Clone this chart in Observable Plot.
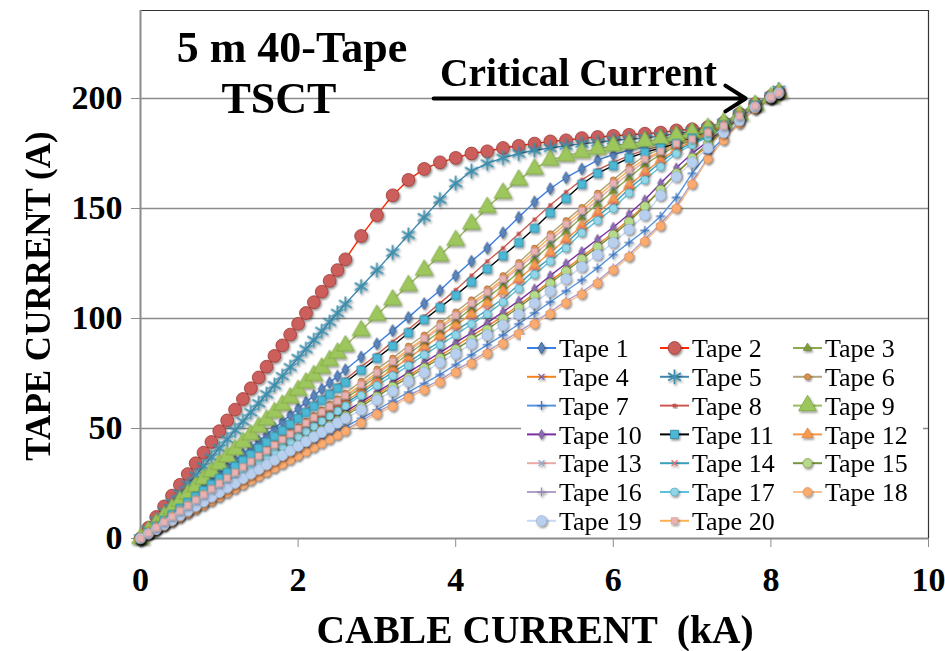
<!DOCTYPE html>
<html><head><meta charset="utf-8">
<script src="https://cdn.jsdelivr.net/npm/d3@7"></script>
<script src="https://cdn.jsdelivr.net/npm/@observablehq/plot@0.6"></script>
<style>
body{margin:0;background:#fff;}
#wrap{position:relative;width:945px;height:651px;overflow:hidden;background:#fff;}
#wrap > svg{position:absolute;left:0;top:0;}
</style></head><body><div id="wrap"></div>
<script>
// ---- data ----
const cableCurrent = [0,0.1,0.2,0.3,0.4,0.5,0.6,0.7,0.8,0.9,1.0,1.1,1.2,1.3,1.4,1.5,1.6,1.7,1.8,1.9,2.0,2.1,2.2,2.3,2.4,2.5,2.6,
  2.8,3.0,3.2,3.4,3.6,3.8,4.0,4.2,4.4,4.6,4.8,5.0,5.2,5.4,5.6,5.8,6.0,6.2,6.4,6.6,6.8,7.0,7.2,7.4,7.6,7.8,8.0,8.1];

const tape1 = [0,3,5.9,8.9,11.8,14.8,17.7,20.7,23.6,26.6,29.5,32.5,35.4,38.4,41.3,44.3,47.2,50.2,53.1,56.1,59,62,64.9,67.9,70.8,73.8,76.7,
  82.5,88.5,94.5,100.5,106.8,112.7,119.5,126,132,139,146,153,159,164,168,172,174.5,176.5,178,179.5,181,183.5,186,188.5,192.5,197,200.5,202.5];
const tape2 = [0,4.9,9.8,14.6,19.5,24.4,29.3,34.2,39,43.9,48.8,53.7,58.6,63.4,68.3,73.2,78.1,83,87.8,92.7,97.6,102.5,107.4,112.2,117.1,122,126.9,
  137.5,147,156,163,168,171,173,175,176,177.5,178.5,179.5,180.5,181,182,182.5,183,183.5,184,184.5,185.5,186,187,189,193,197.5,201,203];
const tape3 = [0,2.5,4.9,7.4,9.8,12.3,14.7,17.2,19.6,22.1,24.5,27,29.4,31.9,34.3,36.8,39.2,41.7,44.1,46.6,49,51.5,53.9,56.4,58.8,61.3,63.7,
  68.5,73.5,78.5,84,89,94,99,104.5,109.5,115,121,127,133.5,139.5,146,152,158,164,170,174.5,178.5,181,184,187.5,192,196.5,200.5,202.5];
const tape4 = [0,2.2,4.4,6.5,8.7,10.9,13.1,15.3,17.4,19.6,21.8,24,26.2,28.3,30.5,32.7,34.9,37.1,39.2,41.4,43.6,45.8,48,50.1,52.3,54.5,56.7,
  61,65.5,70,74,78.5,83,87.5,92,96.5,101,106,111.5,117,122.5,128,133.5,139,145,151.5,158.5,166,172.5,178.5,185,190.5,196,200.5,202.5];
const tape5 = [0,4.1,8.2,12.3,16.4,20.5,24.6,28.7,32.8,36.9,41,45.1,49.2,53.3,57.4,61.5,65.6,69.7,73.8,77.9,82,86.1,90.2,94.3,98.4,102.5,106.6,
  114.5,122,130,138,146,154,161.5,167,170.5,173,175,176.5,177.5,178.5,179.5,180,181,181.5,182,183,184,185,186.5,189,193,197.5,201,204];
const tape6 = [0,2.5,5.1,7.6,10.2,12.7,15.2,17.8,20.3,22.9,25.4,27.9,30.5,33,35.6,38.1,40.6,43.2,45.7,48.3,50.8,53.3,55.9,58.4,61,63.5,66,
  71.5,77,82,87.5,92.5,98,103,108.5,113.5,119.5,125.5,132,138.5,144.5,150.5,157,163,169,174,177,180,182,185,188,192,196.5,200.5,202.5];
const tape7 = [0,2,3.9,5.9,7.8,9.8,11.7,13.7,15.6,17.6,19.5,21.5,23.4,25.4,27.3,29.3,31.2,33.2,35.1,37.1,39,41,42.9,44.9,46.8,48.8,50.7,
  54.6,58.5,62.5,66.5,70.5,74.5,79,83.5,88,92.5,97.5,102.5,107.5,112.5,117.5,123,129,134.5,140,146.5,155,166,175,182,189,195.5,200,202];
const tape8 = [0,2.8,5.6,8.3,11.1,13.9,16.7,19.5,22.2,25,27.8,30.6,33.4,36.1,38.9,41.7,44.5,47.3,50,52.8,55.6,58.4,61.2,63.9,66.7,69.5,72.3,
  78,83.5,89.5,95,101,107,113,119.5,126,132,138.5,145,151.5,157.5,163,167.5,171,174,176.5,178.5,180.5,183,185.5,188.5,192.5,197,200.5,202.5];
const tape9 = [0,3.4,6.7,10.1,13.5,16.9,20.2,23.6,27,30.3,33.7,37.1,40.4,43.8,47.2,50.6,53.9,57.3,60.7,64,67.4,70.8,74.1,77.5,80.9,84.3,87.6,
  94.5,101.5,108.5,115,122,128.5,135.5,143,150.5,157,163,168,172,174,175.5,177,178.5,179.5,180.5,181.5,183,184.5,186.5,189,192.5,197,200.5,202.5];
const tape10 = [0,2.2,4.4,6.7,8.9,11.1,13.3,15.5,17.8,20,22.2,24.4,26.6,28.9,31.1,33.3,35.5,37.7,40,42.2,44.4,46.6,48.8,51.1,53.3,55.5,57.7,
  62,66.5,71,75.5,80,84.5,89,93.5,98,103,108,113.5,119.5,125,130.5,136,141.5,147.5,154,161.5,168.5,175,180.5,186,191,196.5,200.5,202.5];
const tape11 = [0,2.7,5.5,8.2,10.9,13.7,16.4,19.1,21.8,24.6,27.3,30,32.8,35.5,38.2,41,43.7,46.4,49.1,51.9,54.6,57.3,60.1,62.8,65.5,68.3,71,
  76.5,82,87.5,93.5,99.5,105,110.5,116.5,122.5,128.5,134.5,141,148,154.5,161,166,169.5,173,175.5,177.5,179.5,182,185,188,192,197,200.5,202.5];
const tape12 = [0,2.4,4.8,7.2,9.6,12,14.4,16.8,19.2,21.6,24,26.4,28.8,31.2,33.6,36,38.4,40.8,43.2,45.6,48,50.4,52.8,55.2,57.6,60,62.4,
  67,72,77,82,87,92,97,102,107,112.5,118,124,130,136,142,148,154,160.5,166.5,172,177,180.5,184,187.5,192,196.5,200.5,202.5];
const tape13 = [0,2.5,5,7.4,9.9,12.4,14.9,17.4,19.8,22.3,24.8,27.3,29.8,32.2,34.7,37.2,39.7,42.2,44.6,47.1,49.6,52.1,54.6,57,59.5,62,64.5,
  69.5,74.5,80,85,90.5,95.5,100.5,106,111,117,123,129,135.5,141.5,147.5,154,160,166,171.5,175.5,179,181.5,184.5,187.5,192,196.5,200.5,202.5];
const tape14 = [0,2.4,4.7,7.1,9.4,11.8,14.2,16.5,18.9,21.2,23.6,26,28.3,30.7,33,35.4,37.8,40.1,42.5,44.8,47.2,49.6,51.9,54.3,56.6,59,61.4,
  66,71,75.5,80,85,89.5,94.5,99,104,109,115.5,122,127.5,134,141,146.5,152,159,165,171,176,180,183,187.5,191.5,196.5,200.5,202.5];
const tape15 = [0,2.2,4.3,6.5,8.6,10.8,12.9,15.1,17.2,19.4,21.5,23.7,25.8,28,30.1,32.3,34.4,36.6,38.7,40.9,43,45.2,47.3,49.5,51.6,53.8,55.9,
  60,64.5,69,73,77.5,82,86,90.5,95,100,105,110.5,116,121.5,127,132.5,138,144,151,158.5,166,173,179.5,185.5,190.5,196,200.5,202.5];
const tape16 = [0,1.9,3.8,5.7,7.6,9.5,11.4,13.3,15.2,17.1,19,20.9,22.8,24.7,26.6,28.5,30.4,32.3,34.2,36.1,38,39.9,41.8,43.7,45.6,47.5,49.4,
  53.5,57.5,61,65,68.5,72,76.5,80.5,85,89.5,94,98.5,103,108,112,117,123,129,136,143,151,162,173,181.5,189,195,200,202];
const tape17 = [0,2.3,4.6,7,9.3,11.6,13.9,16.2,18.6,20.9,23.2,25.5,27.8,30.2,32.5,34.8,37.1,39.4,41.8,44.1,46.4,48.7,51,53.4,55.7,58,60.3,
  65,69.5,74,78.5,83.5,88,92.5,97.5,102,107.5,113.5,120,126,132,139,144.5,150,157,163,169,175,179,182.5,187,191.5,196.5,200.5,202.5];
const tape18 = [0,1.9,3.8,5.6,7.5,9.4,11.3,13.2,15,16.9,18.8,20.7,22.6,24.4,26.3,28.2,30.1,32,33.8,35.7,37.6,39.5,41.4,43.2,45.1,47,48.9,
  52.5,56.5,60,64,67.5,71,75.5,79.5,84,88.5,93,97.5,102,107,111,116,122,128,135,142,150,161,172.5,181,188.5,195,200,202];
const tape19 = [0,2.1,4.2,6.3,8.4,10.5,12.6,14.7,16.8,18.9,21,23.1,25.2,27.3,29.4,31.5,33.6,35.7,37.8,39.9,42,44.1,46.2,48.3,50.4,52.5,54.6,
  58.5,63,67,71.5,75.5,80,84,88.5,92.5,97,102,107,112.5,118,123.5,129,134.5,140.5,147,156,164.5,171,177.5,184.5,190,196,200.5,202.5];
const tape20 = [0,2.5,5,7.5,10,12.5,15,17.5,20,22.5,25,27.5,30,32.5,35,37.5,40,42.5,45,47.5,50,52.5,55,57.5,60,62.5,65,
  70,75.5,80.5,86,91,96.5,101.5,107,112,118,124,130.5,137,143,149,155.5,161.5,167.5,172.5,176,179.5,181.5,184.5,187.5,192,196.5,200.5,202.5];

const tapeNames = ["Tape 1","Tape 2","Tape 3","Tape 4","Tape 5","Tape 6","Tape 7","Tape 8","Tape 9","Tape 10",
  "Tape 11","Tape 12","Tape 13","Tape 14","Tape 15","Tape 16","Tape 17","Tape 18","Tape 19","Tape 20"];
const yTicks = [0, 50, 100, 150, 200];
const xTicks = [0, 2, 4, 6, 8, 10];
const criticalArrow = [{x1: 3.72, x2: 7.68, y: 200}];
const titleLines = ["5 m 40-Tape", "TSCT"];
const annotationText = "Critical Current";
const xTitle = "CABLE CURRENT  (kA)";
const yTitle = "TAPE CURRENT (A)";

// ---- styles ----
const tapeValues = [tape1,tape2,tape3,tape4,tape5,tape6,tape7,tape8,tape9,tape10,tape11,tape12,tape13,tape14,tape15,tape16,tape17,tape18,tape19,tape20];
const styles = [
  {line:"#3b7fe2", symbol:"diamond",  r:3.6, fill:"#5a84bd", stroke:"#365a8e", sw:0.8},
  {line:"#ff2a00", symbol:"circle",   r:6.4, fill:"#cc5f5c", stroke:"#9a3a37", sw:0.8},
  {line:"#8faa4c", symbol:"triangle", r:3.2, fill:"#7e9c3e", stroke:"#6a8533", sw:0.6},
  {line:"#f5821f", symbol:"times",    r:2.8, fill:"none",    stroke:"#7b5fa0", sw:1.3},
  {line:"#3d88b0", symbol:"asterisk", r:7.0, fill:"none",    stroke:"#3d8fad", sw:1.8},
  {line:"#b4a47a", symbol:"circle",   r:3.0, fill:"#e0904e", stroke:"#a86c34", sw:0.7},
  {line:"#5696e0", symbol:"plus",     r:3.0, fill:"none",    stroke:"#3a72c0", sw:1.3},
  {line:"#cd5a52", symbol:"square",   r:1.8, fill:"#c0504d", stroke:"#c0504d", sw:0.5},
  {line:"#9bbb59", symbol:"triangle", r:6.6, fill:"#9dc75c", stroke:"#7ea545", sw:0.8},
  {line:"#7a2fa3", symbol:"diamond",  r:3.0, fill:"#8a6ab0", stroke:"#6a4c8e", sw:0.6},
  {line:"#000000", symbol:"square",   r:4.6, fill:"#4cb9d5", stroke:"#2b88a4", sw:0.8},
  {line:"#f79646", symbol:"triangle", r:4.2, fill:"#f59a50", stroke:"#d77a30", sw:0.6},
  {line:"#e9a9a7", symbol:"times",    r:2.8, fill:"none",    stroke:"#8ea9c8", sw:1.3},
  {line:"#3aa0bd", symbol:"times",    r:2.8, fill:"none",    stroke:"#e07070", sw:1.3},
  {line:"#77933c", symbol:"circle",   r:4.6, fill:"#b6d98c", stroke:"#7c9a45", sw:0.7},
  {line:"#b1a0c7", symbol:"plus",     r:3.0, fill:"none",    stroke:"#9a88b8", sw:1.3},
  {line:"#5cc2da", symbol:"circle",   r:4.0, fill:"#93d5e6", stroke:"#4bacc6", sw:0.7},
  {line:"#f9bf8f", symbol:"circle",   r:4.4, fill:"#f9ac72", stroke:"#e88b4c", sw:0.7},
  {line:"#c6d9f1", symbol:"circle",   r:5.2, fill:"#b9cfee", stroke:"#9ab4d8", sw:0.7},
  {line:"#fbb152", symbol:"square",   r:3.6, fill:"#e9b3b2", stroke:"#d49a99", sw:0.6}
];

tapeValues.forEach((v, i) => { if (v.length !== cableCurrent.length) console.error(tapeNames[i] + " length " + v.length); });

const rows = tapeValues.flatMap((vals, i) => vals.map((v, j) => ({tape: tapeNames[i], x: cableCurrent[j], y: v})));

const serif = "'Liberation Serif','Times New Roman',Times,serif";
const marks = [
  Plot.gridY(yTicks.slice(1), {stroke: "#8c8c8c", strokeOpacity: 1, strokeWidth: 1.3}),
  Plot.ruleY([240], {stroke: "#333", strokeWidth: 1.2}),
  Plot.ruleX([10], {stroke: "#333", strokeWidth: 1.2}),
  Plot.axisY({ticks: yTicks, tickSize: 9, tickPadding: 9, stroke: "#8c8c8c", fontSize: 34, fontWeight: "bold", label: null}),
  Plot.axisX({ticks: xTicks, tickSize: 9, tickPadding: 19, stroke: "#8c8c8c", fontSize: 34, fontWeight: "bold", label: null}),
  Plot.ruleX([0], {stroke: "#8c8c8c", strokeWidth: 2}),
  Plot.ruleY([0], {stroke: "#8c8c8c", strokeWidth: 2})
];
tapeNames.forEach((name, i) => {
  const d = rows.filter(r => r.tape === name);
  const s = styles[i];
  marks.push(Plot.line(d, {x: "x", y: "y", stroke: s.line, strokeWidth: 1.4}));
});
tapeNames.forEach((name, i) => {
  const d = rows.filter(r => r.tape === name);
  const s = styles[i];
  marks.push(Plot.dot(d, {x: "x", y: "y", symbol: s.symbol, r: s.r, fill: s.fill, stroke: s.stroke, strokeWidth: s.sw}));
});
marks.push(Plot.arrow(criticalArrow, {x1: "x1", x2: "x2", y1: "y", y2: "y", stroke: "#000", strokeWidth: 4, headLength: 9, headAngle: 65}));

const chart = Plot.plot({
  width: 945, height: 651,
  marginLeft: 140, marginRight: 17, marginTop: 10, marginBottom: 113,
  x: {domain: [0, 10]},
  y: {domain: [0, 240]},
  style: {fontFamily: serif, background: "#fff", overflow: "visible"},
  marks
});
const wrap = document.getElementById("wrap");
wrap.appendChild(chart);

// drop shadows on markers (Excel-like)
const svgSel = d3.select(chart);
const defs = svgSel.insert("defs", ":first-child");
defs.append("filter").attr("id", "mshadow").attr("x", "-50%").attr("y", "-50%").attr("width", "200%").attr("height", "200%")
  .append("feDropShadow").attr("dx", 1.2).attr("dy", 1.6).attr("stdDeviation", 0.9).attr("flood-opacity", 0.45);
svgSel.selectAll('g[aria-label="dot"]').attr("filter", "url(#mshadow)");

// ---- overlay: titles, axis titles, legend ----
const ov = d3.select(wrap).append("svg").attr("width", 945).attr("height", 651)
  .style("font-family", serif);

ov.append("text").attr("x", 292).attr("y", 62).attr("text-anchor", "middle")
  .attr("font-size", 44).attr("font-weight", "bold").text(titleLines[0]);
ov.append("text").attr("x", 279).attr("y", 113).attr("text-anchor", "middle")
  .attr("font-size", 44).attr("font-weight", "bold").text(titleLines[1]);
ov.append("text").attr("x", 440).attr("y", 86).attr("text-anchor", "start")
  .attr("font-size", 39.5).attr("font-weight", "bold").text(annotationText);
ov.append("text").attr("x", 535).attr("y", 643).attr("text-anchor", "middle")
  .attr("font-size", 39.5).attr("font-weight", "bold").style("white-space", "pre").attr("xml:space", "preserve").text(xTitle);
ov.append("text").attr("transform", "translate(50,296) rotate(-90)").attr("text-anchor", "middle")
  .attr("font-size", 35).attr("font-weight", "bold").text(yTitle);

// legend
const lg = ov.append("g");
lg.append("rect").attr("x", 521).attr("y", 335).attr("width", 402).attr("height", 201).attr("fill", "#fff");
const symMap = {circle: d3.symbolCircle, diamond: d3.symbolDiamond, triangle: d3.symbolTriangle, square: d3.symbolSquare,
  times: d3.symbolTimes || d3.symbolX, plus: d3.symbolPlus, asterisk: d3.symbolAsterisk};
const colX = [527, 660, 793];
tapeNames.forEach((name, i) => {
  const s = styles[i];
  const col = i % 3, row = Math.floor(i / 3);
  const y = 348 + row * 28.8;
  const x0 = colX[col];
  const g = lg.append("g");
  g.append("line").attr("x1", x0).attr("x2", x0 + 29).attr("y1", y).attr("y2", y)
    .attr("stroke", s.line).attr("stroke-width", 2);
  g.append("path").attr("transform", `translate(${x0 + 14.5},${y})`)
    .attr("d", d3.symbol(symMap[s.symbol], s.r * s.r * Math.PI)())
    .attr("fill", s.fill).attr("stroke", s.stroke).attr("stroke-width", s.sw)
    .attr("filter", "url(#mshadow)");
  g.append("text").attr("x", x0 + 32).attr("y", y).attr("dy", "0.35em")
    .attr("font-size", 26).text(name);
});
</script></body></html>
